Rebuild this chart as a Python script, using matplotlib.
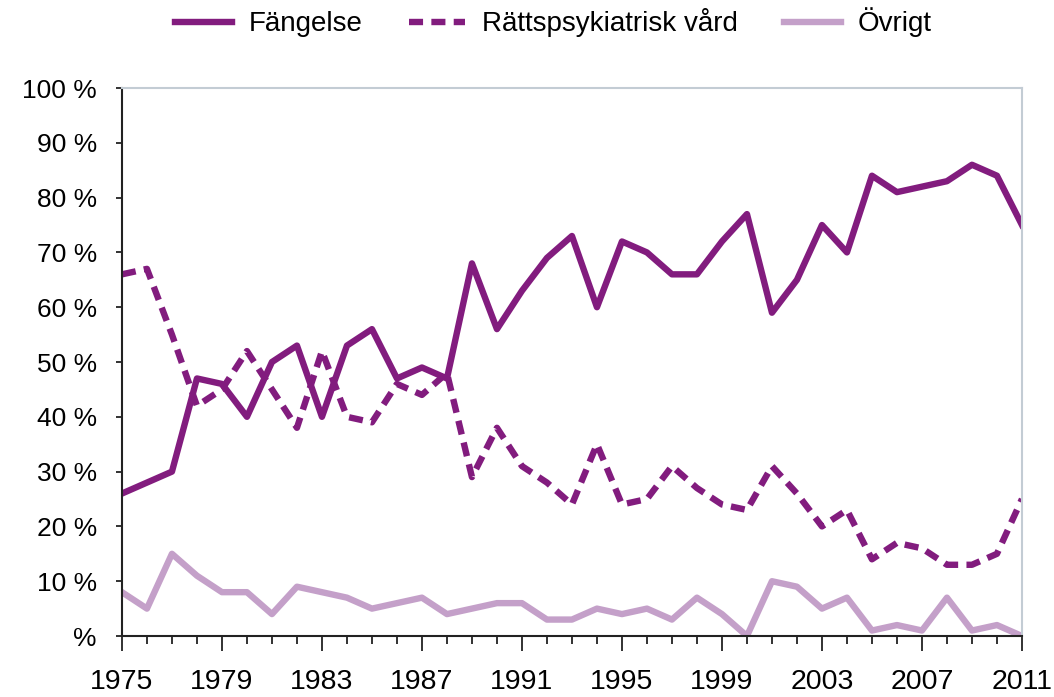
import numpy as np
import matplotlib
matplotlib.use('Agg')
import matplotlib.pyplot as plt
from matplotlib.ticker import FixedLocator

plt.rcParams['font.family'] = ['Liberation Sans', 'DejaVu Sans']

years = list(range(1975, 2012))
fangelse = [26, 28, 30, 47, 46, 40, 50, 53, 40, 53, 56, 47, 49, 47,
            68, 56, 63, 69, 73, 60, 72, 70, 66, 66, 72, 77,
            59, 65, 75, 70, 84, 81, 82, 83, 86, 84, 75]
rattspsyk = [66, 67, 55, 42, 45, 52, 45, 38, 52, 40, 39, 46, 44, 48,
             29, 38, 31, 28, 24, 35, 24, 25, 31, 27, 24, 23,
             31, 26, 20, 23, 14, 17, 16, 13, 13, 15, 25]
ovrigt = [8, 5, 15, 11, 8, 8, 4, 9, 8, 7, 5, 6, 7, 4,
          5, 6, 6, 3, 3, 5, 4, 5, 3, 7, 4, 0,
          10, 9, 5, 7, 1, 2, 1, 7, 1, 2, 0]
labels = ['Fängelse', 'Rättspsykiatrisk vård', 'Övrigt']
ytick_vals = list(range(0, 101, 10))
ytick_labels = ['%'] + ['%d %%' % v for v in ytick_vals[1:]]
xtick_vals = list(range(1975, 2012, 4))

dark = '#821c7e'
light = '#c4a0c9'

fig = plt.figure(figsize=(10.54, 6.97), dpi=100)
ax = fig.add_axes([0.1157, 0.0875, 0.8539, 0.7862])

l1, = ax.plot(years, fangelse, color=dark, lw=4.6, label=labels[0])
l2, = ax.plot(years, rattspsyk, color=dark, lw=4.6, linestyle=(0, (2.2, 1.3)), label=labels[1])
l3, = ax.plot(years, ovrigt, color=light, lw=4.6, label=labels[2])

ax.set_xlim(1975, 2011)
ax.set_ylim(0, 100)
ax.set_yticks(ytick_vals)
ax.set_yticklabels(ytick_labels)
ax.set_xticks(xtick_vals)
ax.set_xticklabels([str(v) for v in xtick_vals])
ax.xaxis.set_minor_locator(FixedLocator(years))
ax.tick_params(axis='both', which='major', width=1.3, color='#222222')
ax.tick_params(axis='x', which='major', length=11, pad=13, labelsize=20.5)
ax.tick_params(axis='x', which='minor', length=5.5, width=1.3, color='#222222')
ax.tick_params(axis='y', which='major', length=4, pad=14, labelsize=19)

for s in ['top', 'right']:
	ax.spines[s].set_color('#c3ccd4')
	ax.spines[s].set_linewidth(1.5)
for s in ['left', 'bottom']:
	ax.spines[s].set_color('#222222')
	ax.spines[s].set_linewidth(1.5)

for lab in ax.get_xticklabels():
	lab.set_clip_on(False)

fig.legend(handles=[l1, l2, l3], labels=labels, loc='center', bbox_to_anchor=(0.525, 0.968),
	ncol=3, frameon=False, fontsize=20, handlelength=2.05, columnspacing=1.65, handletextpad=0.6)

plt.savefig('out.png', dpi=100)
